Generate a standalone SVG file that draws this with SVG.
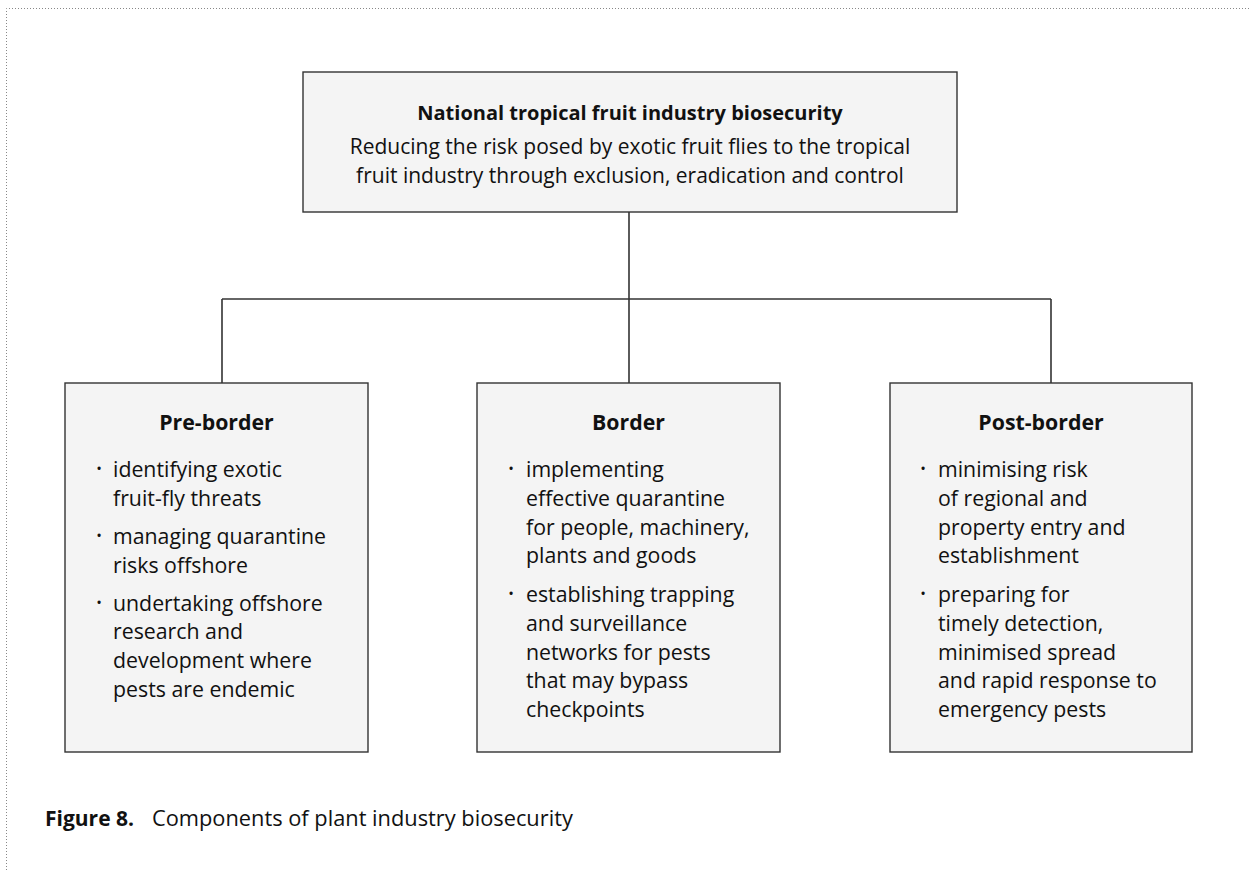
<svg xmlns="http://www.w3.org/2000/svg" width="1250" height="870" viewBox="0 0 1250 870">
<style>
.box{fill:#f4f4f4;stroke:#333;stroke-width:1.4}
.conn{fill:none;stroke:#333;stroke-width:1.6}
text{font-family:"Open Sans","Noto Sans",sans-serif;fill:#111}
.h{font-weight:bold;font-size:20px;text-anchor:middle}
.sub{font-size:21px;text-anchor:middle}
.t{font-weight:bold;font-size:21.3px;text-anchor:middle}
.b{font-size:21.3px}
.dot{font-size:15px;text-anchor:middle}
.cap{font-size:21.8px}
</style>
<rect width="1250" height="870" fill="#fff"/>
<path d="M6.5,870 V8.5 H1250" fill="none" stroke="#888" stroke-width="1" stroke-dasharray="1 2"/>
<g id="connectors">
<line class="conn" x1="629" y1="212" x2="629" y2="299"/>
<line class="conn" x1="222" y1="299" x2="1051" y2="299"/>
<line class="conn" x1="222" y1="299" x2="222" y2="383"/>
<line class="conn" x1="629" y1="299" x2="629" y2="383"/>
<line class="conn" x1="1051" y1="299" x2="1051" y2="383"/>
</g>
<g id="top">
<rect class="box" x="303" y="72" width="654" height="140"/>
<text class="h" x="630" y="120">National tropical fruit industry biosecurity</text>
<text class="sub" x="630" y="154">Reducing the risk posed by exotic fruit flies to the tropical</text>
<text class="sub" x="630" y="182.5">fruit industry through exclusion, eradication and control</text>
</g>
<g id="pre-border">
<rect class="box" x="65" y="383" width="303" height="369"/>
<text class="t" x="216.5" y="430">Pre-border</text>
<text class="dot" x="99" y="474">•</text>
<text class="b" x="113" y="477">identifying exotic</text>
<text class="b" x="113" y="505.8">fruit-fly threats</text>
<text class="dot" x="99" y="540.8">•</text>
<text class="b" x="113" y="543.8">managing quarantine</text>
<text class="b" x="113" y="572.6">risks offshore</text>
<text class="dot" x="99" y="607.6">•</text>
<text class="b" x="113" y="610.6">undertaking offshore</text>
<text class="b" x="113" y="639.4">research and</text>
<text class="b" x="113" y="668.2">development where</text>
<text class="b" x="113" y="697">pests are endemic</text>
</g>
<g id="border">
<rect class="box" x="477" y="383" width="303" height="369"/>
<text class="t" x="628.5" y="430">Border</text>
<text class="dot" x="511" y="474">•</text>
<text class="b" x="526" y="477">implementing</text>
<text class="b" x="526" y="505.8">effective quarantine</text>
<text class="b" x="526" y="534.6">for people, machinery,</text>
<text class="b" x="526" y="563.4">plants and goods</text>
<text class="dot" x="511" y="599">•</text>
<text class="b" x="526" y="602">establishing trapping</text>
<text class="b" x="526" y="630.8">and surveillance</text>
<text class="b" x="526" y="659.6">networks for pests</text>
<text class="b" x="526" y="688.4">that may bypass</text>
<text class="b" x="526" y="717.2">checkpoints</text>
</g>
<g id="post-border">
<rect class="box" x="890" y="383" width="302" height="369"/>
<text class="t" x="1041" y="430">Post-border</text>
<text class="dot" x="923" y="474">•</text>
<text class="b" x="938" y="477">minimising risk</text>
<text class="b" x="938" y="505.8">of regional and</text>
<text class="b" x="938" y="534.6">property entry and</text>
<text class="b" x="938" y="563.4">establishment</text>
<text class="dot" x="923" y="599">•</text>
<text class="b" x="938" y="602">preparing for</text>
<text class="b" x="938" y="630.8">timely detection,</text>
<text class="b" x="938" y="659.6">minimised spread</text>
<text class="b" x="938" y="688.4">and rapid response to</text>
<text class="b" x="938" y="717.2">emergency pests</text>
</g>
<g id="caption">
<text class="cap" x="45" y="826"><tspan font-weight="bold" font-size="21px">Figure 8.</tspan><tspan x="152">Components of plant industry biosecurity</tspan></text>
</g>
</svg>
